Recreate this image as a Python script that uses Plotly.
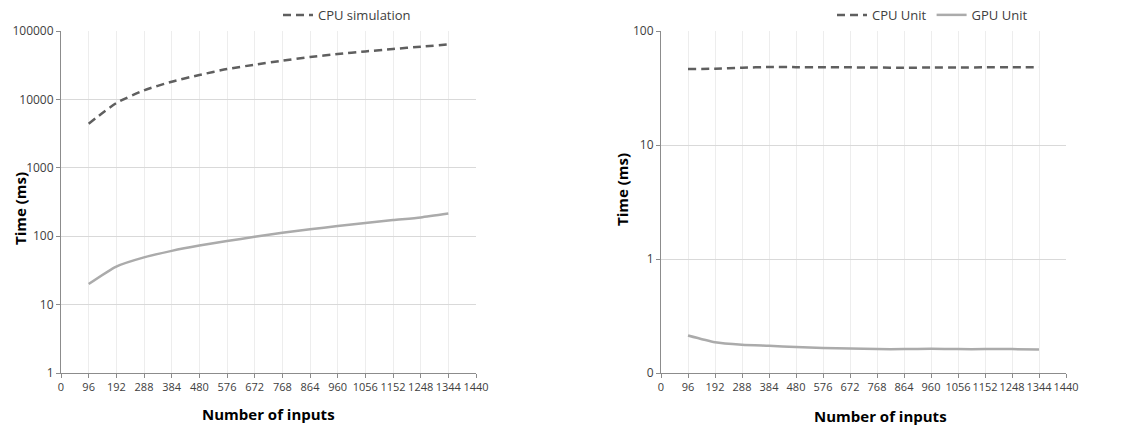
import plotly.graph_objects as go

x_inputs = [96, 192, 288, 384, 480, 576, 672, 768, 864, 960, 1056, 1152, 1248, 1344]

cpu_simulation = [4420, 8850, 13550, 18150, 22750, 27800, 32150, 36800, 41700, 46000, 50300, 54600, 58900, 63700]
gpu_simulation = [20, 36, 49, 61, 73, 85, 98, 112, 126, 141, 156, 172, 188, 214]

cpu_unit = [46.5, 46.6, 47.6, 48.3, 48.2, 48.1, 48.0, 47.8, 47.6, 47.8, 47.9, 48.0, 48.0, 48.1]
gpu_unit = [0.213, 0.186, 0.177, 0.173, 0.169, 0.166, 0.164, 0.162, 0.162, 0.163, 0.162, 0.162, 0.162, 0.161]

x_ticks = list(range(0, 1441, 96))
left_y_ticks = [1, 10, 100, 1000, 10000, 100000]
right_y_ticks = [0.1, 1, 10, 100]
right_y_labels = ["0", "1", "10", "100"]

CPU_COLOR = "#5f5f5f"
GPU_COLOR = "#ababab"
FONT = "Open Sans"
TXT = "#404040"

W, H = 1125, 430
L1, R1 = 61 / W, 476 / W
L2, R2 = 661 / W, 1066 / W

fig = go.Figure()
dash = "8px,5px"
fig.add_trace(go.Scatter(x=x_inputs, y=cpu_simulation, mode="lines", name="CPU simulation",
                         line=dict(color=CPU_COLOR, width=2.5, dash=dash, shape="spline", smoothing=0.6),
                         xaxis="x", yaxis="y", legend="legend"))
fig.add_trace(go.Scatter(x=x_inputs, y=gpu_simulation, mode="lines", name="GPU simulation",
                         line=dict(color=GPU_COLOR, width=2.5, shape="spline", smoothing=0.6),
                         xaxis="x", yaxis="y", showlegend=False))
fig.add_trace(go.Scatter(x=x_inputs, y=cpu_unit, mode="lines", name="CPU Unit",
                         line=dict(color=CPU_COLOR, width=2.5, dash=dash, shape="spline", smoothing=0.6),
                         xaxis="x2", yaxis="y2", legend="legend2"))
fig.add_trace(go.Scatter(x=x_inputs, y=gpu_unit, mode="lines", name="GPU Unit",
                         line=dict(color=GPU_COLOR, width=2.5, shape="spline", smoothing=0.6),
                         xaxis="x2", yaxis="y2", legend="legend2"))

xcommon = dict(range=[0, 1440], tickvals=x_ticks, ticktext=[str(v) for v in x_ticks],
               tickangle=0, automargin=False,
               showgrid=True, gridcolor="#ededed", gridwidth=1,
               showline=True, linecolor="#8c8c8c", linewidth=1,
               ticks="outside", ticklen=4, tickcolor="#8c8c8c",
               tickfont=dict(family=FONT, size=11, color=TXT), zeroline=False, fixedrange=True)
ycommon = dict(type="log", automargin=False, showgrid=True, gridcolor="#d9d9d9", gridwidth=1,
               showline=True, linecolor="#8c8c8c", linewidth=1,
               ticks="outside", ticklen=4, tickcolor="#8c8c8c",
               tickfont=dict(family=FONT, size=12, color=TXT), zeroline=False)

fig.update_layout(
    width=W, height=H,
    paper_bgcolor="white", plot_bgcolor="white",
    margin=dict(l=0, r=0, t=31, b=57, autoexpand=False),
    xaxis=dict(domain=[L1, R1], anchor="y", **xcommon),
    yaxis=dict(domain=[0, 1], anchor="x", range=[0, 5], tickvals=left_y_ticks,
               ticktext=[str(v) for v in left_y_ticks], **ycommon),
    xaxis2=dict(domain=[L2, R2], anchor="y2", **xcommon),
    yaxis2=dict(domain=[0, 1], anchor="x2", range=[-1, 2], tickvals=right_y_ticks,
                ticktext=right_y_labels, **ycommon),
    legend=dict(orientation="h", x=278 / W, xanchor="left", y=1.047, yanchor="middle",
                font=dict(family=FONT, size=13, color=TXT), bgcolor="rgba(0,0,0,0)",
                itemwidth=30),
    legend2=dict(orientation="h", x=832 / W, xanchor="left", y=1.047, yanchor="middle",
                 font=dict(family=FONT, size=13, color=TXT), bgcolor="rgba(0,0,0,0)",
                 itemwidth=30),
    annotations=[
        dict(text="<b>Time (ms)</b>", textangle=-90, xref="paper", yref="paper",
             x=20 / W, y=(430 - 57 - 209) / 342, xanchor="center", yanchor="middle", showarrow=False,
             font=dict(family=FONT, size=15, color="#000000")),
        dict(text="<b>Time (ms)</b>", textangle=-90, xref="paper", yref="paper",
             x=622 / W, y=(430 - 57 - 190) / 342, xanchor="center", yanchor="middle", showarrow=False,
             font=dict(family=FONT, size=15, color="#000000")),
        dict(text="<b>Number of inputs</b>", xref="paper", yref="paper",
             x=268 / W, y=-(414 - 373) / 342, xanchor="center", yanchor="middle", showarrow=False,
             font=dict(family=FONT, size=15, color="#000000")),
        dict(text="<b>Number of inputs</b>", xref="paper", yref="paper",
             x=880 / W, y=-(416 - 373) / 342, xanchor="center", yanchor="middle", showarrow=False,
             font=dict(family=FONT, size=15, color="#000000")),
    ],
)

fig.write_html("out.html", config={"displayModeBar": False},
               post_script="document.body.style.margin='0';document.body.style.overflow='hidden';")
